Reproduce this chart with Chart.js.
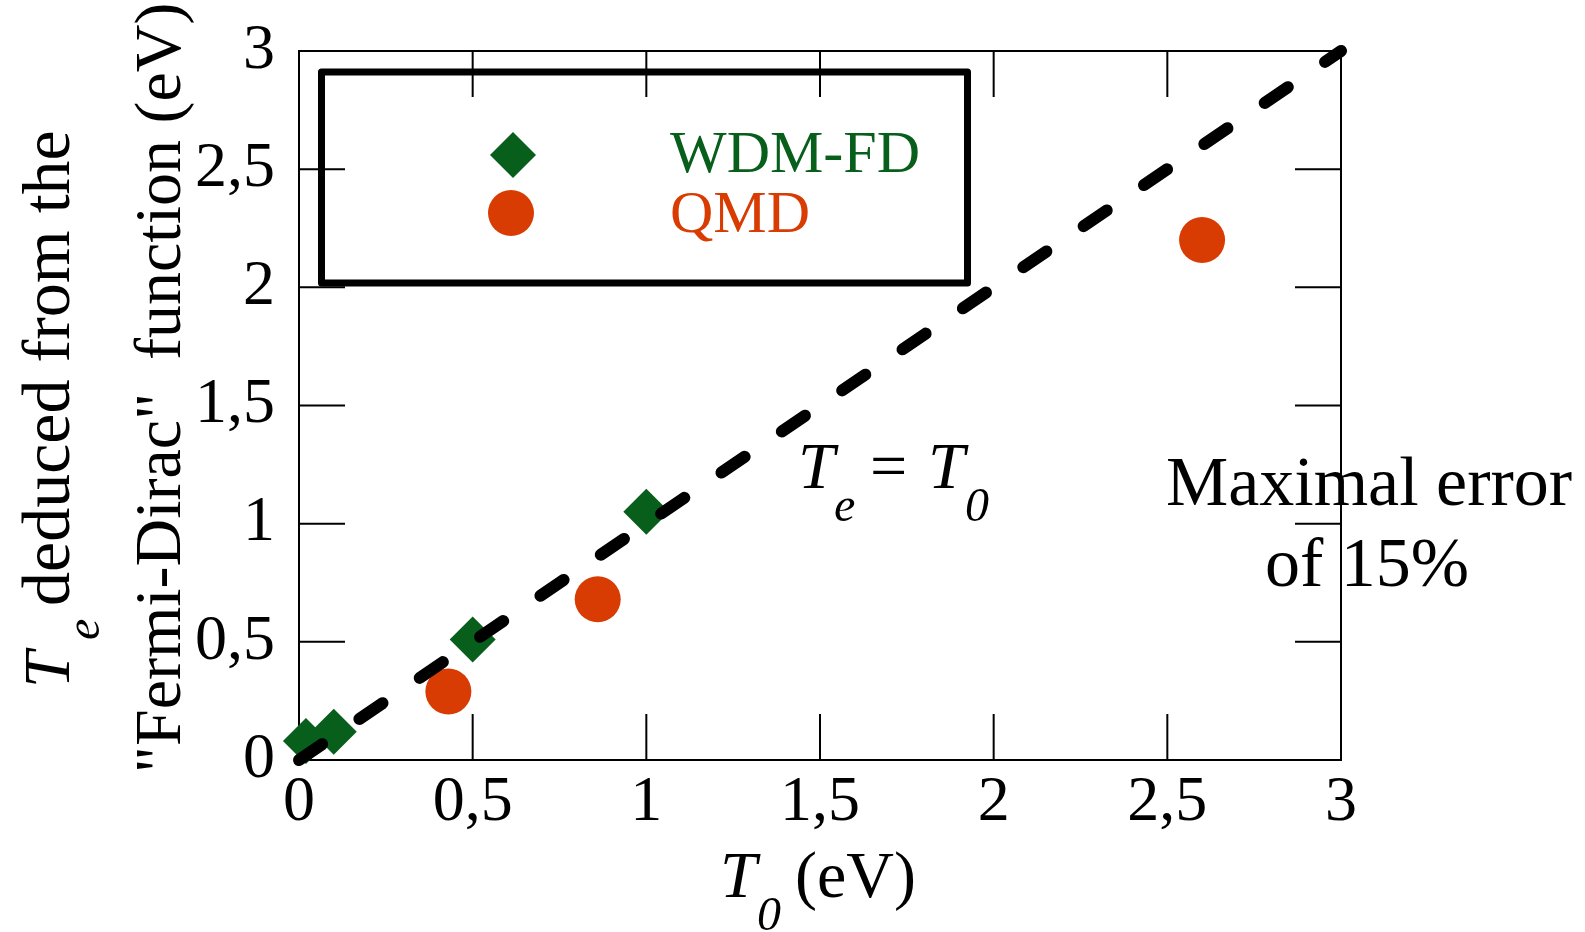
<!DOCTYPE html>
<html>
<head>
<meta charset="utf-8">
<script src="https://cdn.jsdelivr.net/npm/chart.js@4/dist/chart.umd.min.js"></script>
<style>
  html, body { margin: 0; padding: 0; background: #fff; }
  #wrap { width: 1585px; height: 932px; }
</style>
</head>
<body>
<div id="wrap"><canvas id="fd-chart" width="1585" height="932"></canvas></div>
<script>
// Temperatures in eV
const axisTicks = [0, 0.5, 1, 1.5, 2, 2.5, 3];
const wdmT0 = [0.02, 0.1, 0.5, 1.0];
const wdmTe = [0.08, 0.12, 0.51, 1.05];
const qmdT0 = [0.43, 0.86, 2.6];
const qmdTe = [0.29, 0.68, 2.2];
const refLine = [0, 3];

const GREEN = '#085f1c';
const ORANGE = '#d93c02';
const SERIF = '"Liberation Serif", "Times New Roman", serif';

const toPoints = (xs, ys) => xs.map((x, i) => ({ x, y: ys[i] }));
const fmtTick = v => String(v).replace('.', ',');

// frame, mirrored inward ticks, legend box and all the free text
const decorations = {
    id: 'decorations',
    beforeDatasetsDraw(chart) {
        const { ctx, chartArea: a } = chart;
        const xs = chart.scales.x, ys = chart.scales.y;
        const len = 46;
        ctx.save();
        ctx.strokeStyle = '#000';
        ctx.lineWidth = 2;
        ctx.strokeRect(a.left, a.top, a.right - a.left, a.bottom - a.top);
        ctx.beginPath();
        axisTicks.forEach(v => {
            const px = xs.getPixelForValue(v);
            ctx.moveTo(px, a.bottom); ctx.lineTo(px, a.bottom - len);
            ctx.moveTo(px, a.top); ctx.lineTo(px, a.top + len);
            const py = ys.getPixelForValue(v);
            ctx.moveTo(a.left, py); ctx.lineTo(a.left + len, py);
            ctx.moveTo(a.right, py); ctx.lineTo(a.right - len, py);
        });
        ctx.stroke();

        // legend box
        ctx.lineWidth = 7;
        ctx.lineJoin = 'round';
        ctx.strokeRect(321.5, 72, 646, 211);
        ctx.restore();
    },
    afterDraw(chart) {
        const { ctx } = chart;
        ctx.save();
        ctx.textBaseline = 'alphabetic';
        ctx.textAlign = 'left';

        // legend markers and labels
        ctx.fillStyle = GREEN;
        ctx.beginPath();
        ctx.moveTo(513, 132); ctx.lineTo(536, 155); ctx.lineTo(513, 178); ctx.lineTo(490, 155);
        ctx.closePath(); ctx.fill();
        ctx.fillStyle = ORANGE;
        ctx.beginPath(); ctx.arc(511, 213, 23, 0, Math.PI * 2); ctx.fill();

        ctx.font = `60px ${SERIF}`;
        ctx.fillStyle = GREEN;
        ctx.fillText('WDM-FD', 670, 172);
        ctx.fillStyle = ORANGE;
        ctx.fillText('QMD', 670, 232);

        ctx.fillStyle = '#000';
        // x title
        ctx.font = `italic 66px ${SERIF}`;
        ctx.fillText('T', 720, 897);
        ctx.font = `italic 48px ${SERIF}`;
        ctx.fillText('0', 757, 930);
        ctx.font = `66px ${SERIF}`;
        ctx.fillText('(eV)', 795, 897);

        // Te = T0 on the diagonal
        ctx.font = `italic 66px ${SERIF}`;
        ctx.fillText('T', 798, 488);
        ctx.fillText('T', 928, 488);
        ctx.font = `66px ${SERIF}`;
        ctx.fillText('=', 870, 488);
        ctx.font = `italic 48px ${SERIF}`;
        ctx.fillText('e', 834, 521);
        ctx.fillText('0', 965, 521);

        // note on the right
        ctx.font = `70px ${SERIF}`;
        ctx.textAlign = 'center';
        ctx.fillText('Maximal error', 1369, 505);
        ctx.fillText('of 15%', 1367, 586);

        // y title, two rotated lines
        ctx.textAlign = 'left';
        ctx.save();
        ctx.translate(69, 688);
        ctx.rotate(-Math.PI / 2);
        ctx.font = `italic 66px ${SERIF}`;
        ctx.fillText('T', 0, 0);
        ctx.font = `italic 48px ${SERIF}`;
        ctx.fillText('e', 48, 30);
        ctx.font = `68px ${SERIF}`;
        ctx.fillText('deduced from the', 82, 0);
        ctx.restore();

        ctx.save();
        ctx.translate(180, 773);
        ctx.rotate(-Math.PI / 2);
        ctx.font = `66px ${SERIF}`;
        ctx.fillText('"Fermi-Dirac"  function (eV)', 0, 0);
        ctx.restore();

        ctx.restore();
    }
};

new Chart(document.getElementById('fd-chart'), {
    type: 'scatter',
    data: {
        datasets: [{
            label: 'Te = T0',
            data: toPoints(refLine, refLine),
            showLine: true,
            borderColor: '#000',
            borderWidth: 12,
            borderDash: [28, 45],
            borderCapStyle: 'round',
            pointRadius: 0,
            clip: false,
        }, {
            label: 'WDM-FD',
            data: toPoints(wdmT0, wdmTe),
            pointStyle: 'rectRot',
            pointRadius: 23,
            pointHoverRadius: 23,
            backgroundColor: GREEN,
            borderWidth: 0,
            clip: false,
        }, {
            label: 'QMD',
            data: toPoints(qmdT0, qmdTe),
            pointStyle: 'circle',
            pointRadius: 23,
            pointHoverRadius: 23,
            backgroundColor: ORANGE,
            borderWidth: 0,
            clip: false,
        }],
    },
    options: {
        responsive: false,
        animation: false,
        devicePixelRatio: 1,
        layout: { padding: { left: 0, top: 51, right: 244, bottom: 0 } },
        plugins: { legend: { display: false }, tooltip: { enabled: false } },
        scales: {
            x: {
                type: 'linear', min: 0, max: 3,
                afterFit: s => { s.height = 172; s.paddingLeft = 0; s.paddingRight = 0; },
                afterBuildTicks: s => { s.ticks = axisTicks.map(value => ({ value })); },
                grid: { display: false, drawTicks: false },
                border: { display: false },
                ticks: { color: '#000', padding: 11, font: { family: SERIF, size: 64, lineHeight: 1 }, callback: fmtTick, maxRotation: 0 },
            },
            y: {
                type: 'linear', min: 0, max: 3,
                afterFit: s => { s.width = 299; s.paddingTop = 0; s.paddingBottom = 0; },
                afterBuildTicks: s => { s.ticks = axisTicks.map(value => ({ value })); },
                grid: { display: false, drawTicks: false },
                border: { display: false },
                ticks: { color: '#000', padding: 24, font: { family: SERIF, size: 64, lineHeight: 1 }, callback: fmtTick },
            },
        },
    },
    plugins: [decorations],
});
</script>
</body>
</html>
